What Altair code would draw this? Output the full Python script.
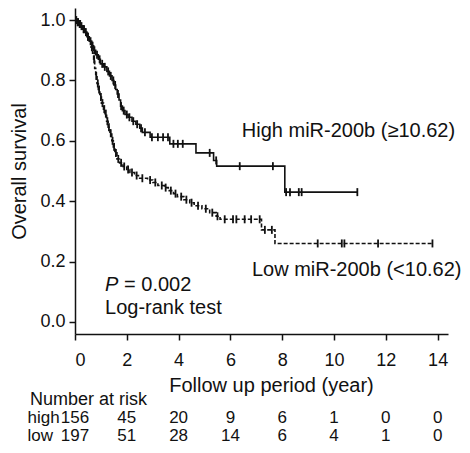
import altair as alt
import pandas as pd
import numpy as np

# ---- data ----
high_t = [0, 0.08, 0.15, 0.22, 0.30, 0.38, 0.46, 0.55, 0.65, 0.72, 0.80, 0.90, 0.98,
          1.10, 1.23, 1.33, 1.43, 1.50, 1.57, 1.63, 1.70, 1.76, 1.83, 1.93, 2.05,
          2.20, 2.35, 2.50, 2.60, 2.90, 3.66, 4.67, 5.35, 5.47, 8.10, 10.90]
high_s = [1.0, 0.993, 0.987, 0.98, 0.97, 0.96, 0.945, 0.93, 0.915, 0.90, 0.885, 0.87, 0.855,
          0.845, 0.83, 0.815, 0.80, 0.785, 0.77, 0.755, 0.735, 0.715, 0.70, 0.687, 0.678,
          0.665, 0.655, 0.642, 0.628, 0.612, 0.59, 0.56, 0.535, 0.516, 0.43, 0.43]

low_t = [0, 0.08, 0.15, 0.22, 0.30, 0.38, 0.46, 0.55, 0.62, 0.68, 0.72, 0.76, 0.80, 0.85,
         0.90, 0.96, 1.02, 1.10, 1.16, 1.22, 1.28, 1.35, 1.42, 1.48, 1.54, 1.62, 1.72,
         1.85, 2.00, 2.12, 2.30, 2.45, 2.80, 3.00, 3.20, 3.45, 3.60, 3.80, 3.95, 4.20,
         4.43, 4.60, 4.90, 5.20, 5.45, 5.60, 7.20, 7.72, 13.80]
low_s = [1.0, 0.993, 0.987, 0.98, 0.97, 0.96, 0.945, 0.93, 0.91, 0.89, 0.87, 0.84, 0.815, 0.79,
         0.77, 0.745, 0.725, 0.705, 0.69, 0.665, 0.645, 0.625, 0.60, 0.58, 0.56, 0.54, 0.527,
         0.515, 0.505, 0.495, 0.485, 0.476, 0.47, 0.462, 0.452, 0.445, 0.435, 0.425, 0.415, 0.405,
         0.395, 0.385, 0.375, 0.362, 0.35, 0.34, 0.305, 0.26, 0.26]

high_cens = [0.05, 0.12, 0.18, 0.25, 0.33, 0.42, 0.50, 0.60, 0.68, 0.75, 0.85, 0.95, 1.05,
             1.15, 1.28, 1.38, 1.48, 1.55, 1.66, 1.78, 1.88, 2.00, 2.10, 2.25, 2.40, 2.55,
             2.70, 2.97, 3.20, 3.40, 3.59, 3.80, 3.97, 4.16, 5.20, 5.45, 6.36, 7.64, 8.15,
             8.30, 8.64, 8.75, 10.90]
low_cens = [0.10, 0.20, 0.35, 0.50, 0.65, 0.74, 0.82, 0.88, 0.93, 1.00, 1.06, 1.13, 1.19,
            1.25, 1.31, 1.38, 1.45, 1.51, 1.58, 1.67, 1.78, 1.90, 2.05, 2.20, 2.38, 2.60,
            2.90, 3.10, 3.35, 3.50, 3.70, 3.88, 4.10, 4.30, 4.50, 4.75, 5.05, 5.30, 5.50,
            5.78, 6.10, 6.23, 6.55, 6.80, 7.13, 7.33, 7.60, 9.37, 10.30, 10.40, 11.70, 13.80]

risk_years = [0, 2, 4, 6, 8, 10, 12, 14]
risk_high = [156, 45, 20, 9, 6, 1, 0, 0]
risk_low = [197, 51, 28, 14, 6, 4, 1, 0]

y_ticks = [0.0, 0.2, 0.4, 0.6, 0.8, 1.0]
x_ticks = [0, 2, 4, 6, 8, 10, 12, 14]


def step_at(ts, ss, t):
    idx = int(np.searchsorted(np.array(ts), t, side="right")) - 1
    return ss[idx]


FONT = "Liberation Sans"
INK = "#111111"

high_df = pd.DataFrame({"t": high_t, "s": high_s})
low_df = pd.DataFrame({"t": low_t, "s": low_s})
cens_df = pd.DataFrame(
    {"t": high_cens + low_cens,
     "s": [step_at(high_t, high_s, t) for t in high_cens] + [step_at(low_t, low_s, t) for t in low_cens]}
)

xs = alt.Scale(domain=[0, 14.4], nice=False, zero=False)
ys = alt.Scale(domain=[-0.04, 1.04], nice=False, zero=False)

x_enc = alt.X(
    "t:Q", scale=xs, title="Follow up period (year)",
    axis=alt.Axis(values=x_ticks, format="d", grid=False, labelFont=FONT, labelFontSize=18,
                  labelColor=INK, labelPadding=11, tickSize=6, tickColor=INK, domainColor=INK,
                  tickWidth=1.5, domainWidth=1.5,
                  titleFont=FONT, titleFontSize=20, titleFontWeight="normal", titleColor=INK,
                  titlePadding=6, titleX=196, titleAlign="center"),
)
y_enc = alt.Y(
    "s:Q", scale=ys, title="Overall survival",
    axis=alt.Axis(values=y_ticks, format=".1f", grid=False, labelFont=FONT, labelFontSize=18,
                  labelColor=INK, labelPadding=4, tickSize=6, tickColor=INK, domainColor=INK,
                  tickWidth=1.5, domainWidth=1.5,
                  titleFont=FONT, titleFontSize=20, titleFontWeight="normal", titleColor=INK,
                  titlePadding=10),
)

high_line = alt.Chart(high_df).mark_line(
    interpolate="step-after", color=INK, strokeWidth=1.6
).encode(x=x_enc, y=y_enc)

low_line = alt.Chart(low_df).mark_line(
    interpolate="step-after", color=INK, strokeWidth=1.6, strokeDash=[4, 2]
).encode(x=x_enc, y=y_enc)

cens = alt.Chart(cens_df).mark_point(
    shape="M0,-1L0,1", size=64, color=INK, strokeWidth=1.8, filled=False, opacity=1
).encode(x=x_enc, y=y_enc)

ann_df = pd.DataFrame({
    "t": [6.44, 6.83, 1.16],
    "s": [0.632, 0.171, 0.046],
    "label": ["High miR-200b (\u226510.62)", "Low miR-200b (<10.62)", "Log-rank test"],
})
ann = alt.Chart(ann_df).mark_text(
    align="left", baseline="middle", font=FONT, fontSize=20, color=INK
).encode(x=x_enc, y=y_enc, text="label:N")

p_df = pd.DataFrame({"t": [1.16], "s": [0.122], "p": ["P"], "rest": ["= 0.002"]})
p_it = alt.Chart(p_df).mark_text(
    align="left", baseline="middle", font=FONT, fontSize=20, fontStyle="italic", color=INK
).encode(x=x_enc, y=y_enc, text="p:N")
p_rest = alt.Chart(p_df).mark_text(
    align="left", baseline="middle", font=FONT, fontSize=20, color=INK, dx=19
).encode(x=x_enc, y=y_enc, text="rest:N")

risk_df = pd.DataFrame({"t": risk_years, "high": risk_high, "low": risk_low})
row_high = alt.Chart(risk_df).mark_text(
    align="center", baseline="middle", font=FONT, fontSize=17, color=INK
).encode(x=x_enc, y=alt.value(410), text="high:Q")
row_low = alt.Chart(risk_df).mark_text(
    align="center", baseline="middle", font=FONT, fontSize=17, color=INK
).encode(x=x_enc, y=alt.value(428), text="low:Q")

head_df = pd.DataFrame({"t": [-1.74], "row": ["Number at risk"]})
row_head = alt.Chart(head_df).mark_text(
    align="left", baseline="middle", font=FONT, fontSize=18, color=INK
).encode(x=x_enc, y=alt.value(392), text="row:N")

lab_df = pd.DataFrame({"t": [-1.83, -1.83], "row": ["high", "low"], "py": [410, 428]})
row_labels = alt.Chart(lab_df).mark_text(
    align="left", baseline="middle", font=FONT, fontSize=17, color=INK
).encode(x=x_enc, y=alt.Y("py:Q", scale=None), text="row:N")

chart = alt.layer(
    low_line, high_line, cens, ann, p_it, p_rest, row_high, row_low, row_head, row_labels
).properties(
    width=373, height=326,
    padding={"left": 67, "top": 0, "right": 14, "bottom": 111},
    autosize=alt.AutoSizeParams(type="none"),
    background="white",
).configure_view(stroke=None)

chart.save("out.html", embed_options={"renderer": "svg", "actions": False})
